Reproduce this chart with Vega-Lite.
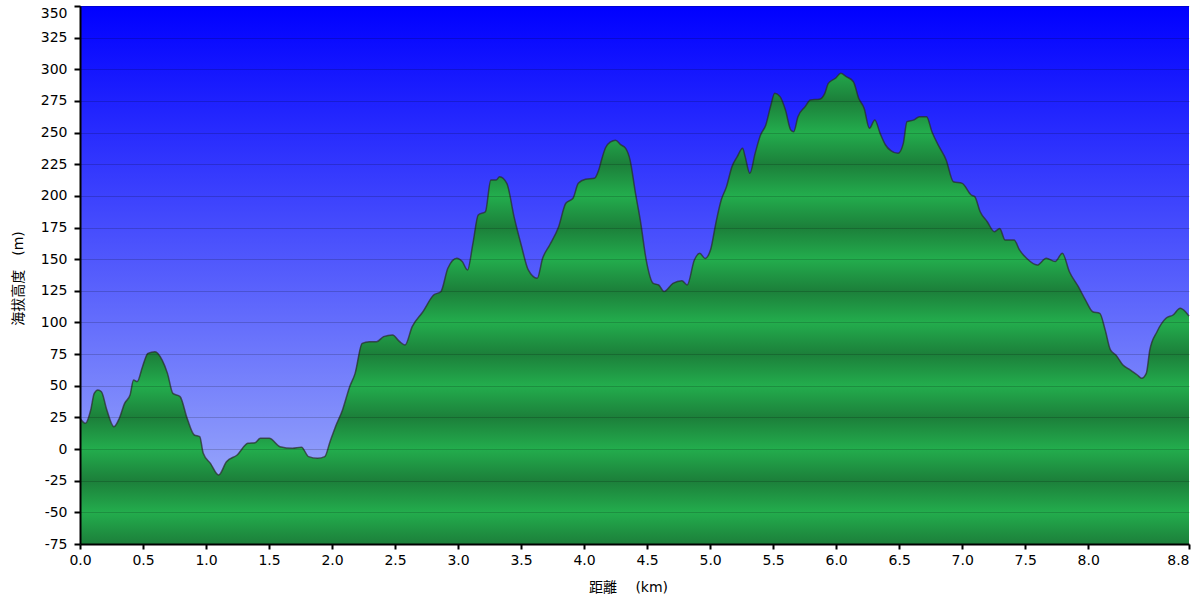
{
  "$schema": "https://vega.github.io/schema/vega-lite/v6.json",
  "width": 1109,
  "height": 538,
  "autosize": {"type": "none"},
  "padding": {"left": 80, "top": 6, "right": 6, "bottom": 57},
  "background": "white",
  "view": {
    "stroke": null,
    "fill": {"gradient": "linear", "x1": 0, "y1": 0, "x2": 0, "y2": 1,
      "stops": [{"offset": 0, "color": "#0000FF"}, {"offset": 1, "color": "#AABAFA"}]}
  },
  "data": {"values": [
    {"km":0,"m":24.3},{"km":0.043,"m":20.3},{"km":0.085,"m":30.9},{"km":0.113,"m":44},{"km":0.142,"m":46.7},{"km":0.17,"m":45.3},{"km":0.213,"m":30.9},{"km":0.269,"m":17.7},{"km":0.312,"m":24.3},{"km":0.354,"m":36.1},{"km":0.397,"m":42.7},{"km":0.425,"m":54.6},{"km":0.454,"m":53.3},{"km":0.496,"m":65.1},{"km":0.539,"m":75.6},{"km":0.595,"m":76.9},{"km":0.652,"m":70.3},{"km":0.694,"m":59.8},{"km":0.737,"m":44},{"km":0.794,"m":41.4},{"km":0.85,"m":24.3},{"km":0.907,"m":11.1},{"km":0.95,"m":9.8},{"km":0.978,"m":-3.4},{"km":1.035,"m":-11.3},{"km":1.1,"m":-20.5},{"km":1.162,"m":-10},{"km":1.247,"m":-4.7},{"km":1.332,"m":4.5},{"km":1.389,"m":5},{"km":1.431,"m":8.5},{"km":1.502,"m":8.5},{"km":1.587,"m":1.9},{"km":1.686,"m":0.6},{"km":1.757,"m":1.4},{"km":1.814,"m":-6},{"km":1.885,"m":-7.3},{"km":1.942,"m":-6},{"km":1.984,"m":5.8},{"km":2.027,"m":17.7},{"km":2.083,"m":30.9},{"km":2.14,"m":49.3},{"km":2.183,"m":59.8},{"km":2.239,"m":83.5},{"km":2.296,"m":84.8},{"km":2.353,"m":84.8},{"km":2.409,"m":88.8},{"km":2.48,"m":90.1},{"km":2.537,"m":84.8},{"km":2.579,"m":82.2},{"km":2.636,"m":96.7},{"km":2.721,"m":108.5},{"km":2.806,"m":121.7},{"km":2.863,"m":124.3},{"km":2.919,"m":142.8},{"km":2.99,"m":150.7},{"km":3.033,"m":148.1},{"km":3.075,"m":141.5},{"km":3.118,"m":162.5},{"km":3.16,"m":184.9},{"km":3.217,"m":187.5},{"km":3.26,"m":212.5},{"km":3.302,"m":212.5},{"km":3.33,"m":215.2},{"km":3.387,"m":209.9},{"km":3.444,"m":183.6},{"km":3.501,"m":161.2},{"km":3.557,"m":141.5},{"km":3.628,"m":134.9},{"km":3.671,"m":150.7},{"km":3.727,"m":161.2},{"km":3.798,"m":175.7},{"km":3.855,"m":194.2},{"km":3.912,"m":198.1},{"km":3.954,"m":209.9},{"km":4.011,"m":213.1},{"km":4.082,"m":213.9},{"km":4.116,"m":220.4},{"km":4.138,"m":228.3},{"km":4.17,"m":238},{"km":4.21,"m":242.6},{"km":4.25,"m":244},{"km":4.29,"m":240.5},{"km":4.33,"m":237.5},{"km":4.365,"m":228.3},{"km":4.408,"m":202},{"km":4.45,"m":178.3},{"km":4.493,"m":149.3},{"km":4.549,"m":130.9},{"km":4.592,"m":129.6},{"km":4.634,"m":124.4},{"km":4.705,"m":130.9},{"km":4.776,"m":133},{"km":4.818,"m":129.6},{"km":4.875,"m":149.3},{"km":4.918,"m":154.6},{"km":4.96,"m":150.6},{"km":5.003,"m":157.2},{"km":5.045,"m":178.3},{"km":5.088,"m":196.7},{"km":5.13,"m":207.3},{"km":5.173,"m":223.1},{"km":5.215,"m":231},{"km":5.258,"m":237.6},{"km":5.278,"m":231},{"km":5.315,"m":217.8},{"km":5.357,"m":233.6},{"km":5.4,"m":248.1},{"km":5.442,"m":256},{"km":5.479,"m":270.5},{"km":5.513,"m":281},{"km":5.555,"m":278.4},{"km":5.598,"m":267.8},{"km":5.64,"m":252},{"km":5.663,"m":250.7},{"km":5.697,"m":262.5},{"km":5.754,"m":270.5},{"km":5.796,"m":275.8},{"km":5.867,"m":276.3},{"km":5.91,"m":281},{"km":5.938,"m":288.9},{"km":5.995,"m":292.9},{"km":6.037,"m":296.8},{"km":6.08,"m":294.2},{"km":6.137,"m":290.2},{"km":6.179,"m":277.1},{"km":6.222,"m":269.2},{"km":6.264,"m":253.4},{"km":6.307,"m":260},{"km":6.349,"m":249.4},{"km":6.392,"m":240.2},{"km":6.434,"m":235.7},{"km":6.491,"m":233.6},{"km":6.533,"m":241.5},{"km":6.562,"m":258.6},{"km":6.618,"m":260},{"km":6.661,"m":262.6},{"km":6.718,"m":262.6},{"km":6.76,"m":250.7},{"km":6.817,"m":238.9},{"km":6.873,"m":228.4},{"km":6.93,"m":211.2},{"km":7.001,"m":209.9},{"km":7.072,"m":200.7},{"km":7.1,"m":199.4},{"km":7.143,"m":187.5},{"km":7.199,"m":179.6},{"km":7.256,"m":171.7},{"km":7.298,"m":174.3},{"km":7.341,"m":165.2},{"km":7.412,"m":165.2},{"km":7.455,"m":157.3},{"km":7.511,"m":150.7},{"km":7.596,"m":145.4},{"km":7.667,"m":150.7},{"km":7.738,"m":148.1},{"km":7.795,"m":154.6},{"km":7.851,"m":140.1},{"km":7.922,"m":128.3},{"km":7.979,"m":117.7},{"km":8.036,"m":108.5},{"km":8.092,"m":107.2},{"km":8.135,"m":94},{"km":8.177,"m":78.3},{"km":8.22,"m":74.3},{"km":8.276,"m":66.4},{"km":8.333,"m":62.5},{"km":8.39,"m":58.5},{"km":8.424,"m":55.9},{"km":8.461,"m":59.8},{"km":8.489,"m":78.3},{"km":8.546,"m":92.7},{"km":8.617,"m":103.3},{"km":8.673,"m":105.9},{"km":8.73,"m":111.2},{"km":8.772,"m":108.5},{"km":8.8,"m":105}
  ]},
  "encoding": {
    "x": {
      "field": "km", "type": "quantitative",
      "scale": {"domain": [0, 8.8], "nice": false, "zero": false},
      "axis": {
        "title": "距離　 (km)",
        "values": [0, 0.5, 1, 1.5, 2, 2.5, 3, 3.5, 4, 4.5, 5, 5.5, 6, 6.5, 7, 7.5, 8, 8.8],
        "format": ".1f",
        "grid": false,
        "labelFlush": false,
        "labelOverlap": false,
        "labelAlign": {"expr": "datum.value >= 8.79 ? 'right' : 'center'"},
        "labelFont": "DejaVu Sans", "labelFontSize": 14, "labelColor": "#000000", "labelPadding": 4,
        "domainColor": "#000000", "domainWidth": 2,
        "tickColor": "#000000", "tickWidth": 2, "tickSize": 5,
        "titleFont": "DejaVu Sans, Noto Sans CJK JP", "titleFontSize": 14, "titleFontWeight": "normal", "titleColor": "#000000",
        "titleX": 548, "titleY": 43, "titleAlign": "center", "titleBaseline": "middle",
        "zindex": 1
      }
    },
    "y": {
      "field": "m", "type": "quantitative", "stack": null,
      "scale": {"domain": [-75, 350], "nice": false, "zero": false},
      "axis": {
        "title": "海拔高度　(m)",
        "values": [-75, -50, -25, 0, 25, 50, 75, 100, 125, 150, 175, 200, 225, 250, 275, 300, 325, 350],
        "labelExpr": "'' + datum.value",
        "grid": true, "gridColor": "#000000", "gridOpacity": 0.17, "gridWidth": 1,
        "labelFont": "DejaVu Sans", "labelFontSize": 14, "labelColor": "#000000", "labelPadding": 7,
        "labelBaseline": {"expr": "datum.value >= 349 ? 'top' : 'middle'"},
        "domainColor": "#000000", "domainWidth": 2,
        "tickColor": "#000000", "tickWidth": 2, "tickSize": 6,
        "titleFont": "DejaVu Sans, Noto Sans CJK JP", "titleFontSize": 14, "titleFontWeight": "normal", "titleColor": "#000000",
        "titleX": -62, "titleY": 272, "titleAngle": -90, "titleAlign": "center", "titleBaseline": "middle",
        "zindex": 1
      }
    }
  },
  "layer": [
    {
      "mark": {
        "type": "area",
        "interpolate": "monotone",
        "color": {"gradient": "linear", "x1": 0, "y1": 0, "x2": 0, "y2": 1,
          "stops": [
            {"offset": 0, "color": "#22A74B"},
            {"offset": 0.05863, "color": "#1C7F3A"},
            {"offset": 0.12588, "color": "#23AD4D"},
            {"offset": 0.19311, "color": "#1C7F3A"},
            {"offset": 0.26036, "color": "#23AD4D"},
            {"offset": 0.32759, "color": "#1C7F3A"},
            {"offset": 0.39484, "color": "#23AD4D"},
            {"offset": 0.46208, "color": "#1C7F3A"},
            {"offset": 0.52932, "color": "#23AD4D"},
            {"offset": 0.59656, "color": "#1C7F3A"},
            {"offset": 0.6638, "color": "#23AD4D"},
            {"offset": 0.73104, "color": "#1C7F3A"},
            {"offset": 0.79828, "color": "#23AD4D"},
            {"offset": 0.86552, "color": "#1C7F3A"},
            {"offset": 0.93276, "color": "#23AD4D"},
            {"offset": 1, "color": "#1C7F3A"}
          ]}
      },
      "encoding": {
        "y2": {"datum": -75}
      }
    },
    {
      "mark": {"type": "line", "interpolate": "monotone", "color": "#2a2a2a", "strokeWidth": 1.5, "opacity": 0.7},
      "encoding": {}
    },
    {
      "data": {"values": [{}]},
      "mark": {"type": "rule", "color": "#86D9A2", "strokeWidth": 1.5},
      "encoding": {"x": {"datum": 8.8}, "y": {"datum": -75}, "y2": {"datum": 350}}
    }
  ]
}
